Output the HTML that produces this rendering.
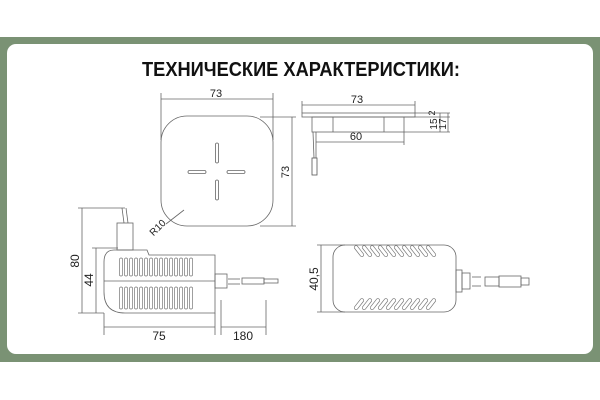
<!DOCTYPE html>
<html><head><meta charset="utf-8"><style>
html,body{margin:0;padding:0;width:600px;height:400px;overflow:hidden;background:#fff}
</style></head><body>
<svg width="600" height="400" viewBox="0 0 600 400" xmlns="http://www.w3.org/2000/svg" font-family="Liberation Sans, sans-serif">
<defs>
<rect id="sv" x="-1.6" y="0" width="3.2" height="18" rx="1.6" fill="none" stroke="#777" stroke-width="0.7"/>
<rect id="sl" x="-1.6" y="0" width="3.2" height="22" rx="1.6" fill="none" stroke="#777" stroke-width="0.7"/>
<rect id="ss" x="-1.8" y="0" width="3.6" height="13" rx="1.8" fill="none" stroke="#777" stroke-width="0.7"/>
</defs>
<rect x="0" y="0" width="600" height="400" fill="#fff"/>
<rect x="0" y="37" width="600" height="325" fill="#7a9274"/>
<rect x="7" y="44" width="586" height="310" rx="9" fill="#fff"/>
<text x="301" y="76" text-anchor="middle" font-size="20" font-weight="bold" textLength="318" lengthAdjust="spacingAndGlyphs" fill="#111">ТЕХНИЧЕСКИЕ ХАРАКТЕРИСТИКИ:</text>

<g fill="none" stroke="#666" stroke-width="0.8">
<rect x="161" y="116" width="112" height="110" rx="26"/>
<rect x="215.5" y="143" width="3" height="20" rx="1.5"/>
<rect x="215.5" y="180" width="3" height="20" rx="1.5"/>
<rect x="188" y="170.5" width="18" height="3" rx="1.5"/>
<rect x="227" y="170.5" width="18" height="3" rx="1.5"/>
<line x1="161" y1="93" x2="161" y2="140"/><line x1="273" y1="93" x2="273" y2="140"/>
<line x1="161" y1="99" x2="273" y2="99"/>
<line x1="260" y1="117" x2="296" y2="117"/><line x1="260" y1="226" x2="296" y2="226"/>
<line x1="292" y1="117" x2="292" y2="226"/>
<line x1="166" y1="224" x2="184" y2="210"/>
<rect x="302" y="113" width="113" height="4"/>
<rect x="312" y="117" width="92" height="15"/>
<line x1="333" y1="117" x2="333" y2="132"/><line x1="384" y1="117" x2="384" y2="132"/>
<line x1="302" y1="105" x2="415" y2="105"/><line x1="302" y1="101" x2="302" y2="113"/><line x1="415" y1="101" x2="415" y2="113"/>
<line x1="316" y1="142" x2="404" y2="142"/><line x1="404" y1="132" x2="404" y2="145"/>
<line x1="415" y1="113" x2="450" y2="113"/><line x1="404" y1="117" x2="450" y2="117"/><line x1="404" y1="132" x2="450" y2="132"/>
<line x1="440" y1="113" x2="440" y2="132"/><line x1="448" y1="113" x2="448" y2="132"/>
<line x1="313" y1="132" x2="314" y2="158"/><line x1="316" y1="132" x2="316" y2="158"/>
<rect x="312" y="158" width="5" height="17" stroke="#555"/>
<path d="M104 262 Q104 250 114 250 L147 250 L149 255 L215 255 L215 313 L125 313 Q104 313 104 292 Z"/>
<line x1="104" y1="281" x2="215" y2="281"/>
<rect x="117" y="223" width="16" height="27"/>
<line x1="122" y1="208" x2="124" y2="223"/><line x1="126" y1="208" x2="128" y2="223"/>
<rect x="215" y="274" width="12" height="14"/>
<line x1="228" y1="279" x2="240" y2="279"/><line x1="228" y1="284" x2="240" y2="284"/>
<rect x="242" y="278" width="22" height="6"/><rect x="264" y="279" width="14" height="4"/>
<line x1="82" y1="208" x2="82" y2="313"/><line x1="78" y1="208" x2="125" y2="208"/><line x1="78" y1="313" x2="104" y2="313"/>
<line x1="96" y1="248" x2="96" y2="313"/><line x1="92" y1="248" x2="118" y2="248"/>
<line x1="104" y1="313" x2="104" y2="335"/><line x1="215" y1="313" x2="215" y2="335"/>
<line x1="221" y1="300" x2="221" y2="335"/><line x1="266" y1="300" x2="266" y2="335"/>
<line x1="104" y1="327" x2="215" y2="327"/><line x1="221" y1="327" x2="266" y2="327"/>
<rect x="333" y="245" width="123" height="67" rx="12"/>
<line x1="321" y1="245" x2="321" y2="312"/><line x1="317" y1="245" x2="345" y2="245"/><line x1="317" y1="312" x2="345" y2="312"/>
<rect x="456" y="270" width="6" height="22"/><rect x="462" y="273" width="8" height="16"/>
<line x1="472" y1="277" x2="481" y2="277"/><line x1="472" y1="286" x2="481" y2="286"/>
<rect x="485" y="277" width="14" height="9"/><rect x="499" y="276" width="22" height="11"/><rect x="521" y="278" width="8" height="7"/>
</g>
<g>
<use href="#sv" x="121" y="258"/><use href="#sv" x="126" y="258"/><use href="#sv" x="131" y="258"/><use href="#sv" x="136" y="258"/><use href="#sv" x="141" y="258"/><use href="#sv" x="146" y="258"/><use href="#sv" x="151" y="258"/><use href="#sv" x="156" y="258"/><use href="#sv" x="161" y="258"/><use href="#sv" x="166" y="258"/><use href="#sv" x="171" y="258"/><use href="#sv" x="176" y="258"/><use href="#sv" x="181" y="258"/><use href="#sv" x="186" y="258"/><use href="#sv" x="191" y="258"/>
<use href="#sl" x="121" y="287"/><use href="#sl" x="126" y="287"/><use href="#sl" x="131" y="287"/><use href="#sl" x="136" y="287"/><use href="#sl" x="141" y="287"/><use href="#sl" x="146" y="287"/><use href="#sl" x="151" y="287"/><use href="#sl" x="156" y="287"/><use href="#sl" x="161" y="287"/><use href="#sl" x="166" y="287"/><use href="#sl" x="171" y="287"/><use href="#sl" x="176" y="287"/><use href="#sl" x="181" y="287"/><use href="#sl" x="186" y="287"/><use href="#sl" x="191" y="287"/>
<g transform="translate(0,0)">
<use href="#ss" transform="translate(355,246) rotate(-38)"/><use href="#ss" transform="translate(363,246) rotate(-38)"/><use href="#ss" transform="translate(371,246) rotate(-38)"/><use href="#ss" transform="translate(379,246) rotate(-38)"/><use href="#ss" transform="translate(387,246) rotate(-38)"/><use href="#ss" transform="translate(395,246) rotate(-38)"/><use href="#ss" transform="translate(403,246) rotate(-38)"/><use href="#ss" transform="translate(411,246) rotate(-38)"/><use href="#ss" transform="translate(419,246) rotate(-38)"/><use href="#ss" transform="translate(427,246) rotate(-38)"/>
<use href="#ss" transform="translate(363,299) rotate(38)"/><use href="#ss" transform="translate(371,299) rotate(38)"/><use href="#ss" transform="translate(379,299) rotate(38)"/><use href="#ss" transform="translate(387,299) rotate(38)"/><use href="#ss" transform="translate(395,299) rotate(38)"/><use href="#ss" transform="translate(403,299) rotate(38)"/><use href="#ss" transform="translate(411,299) rotate(38)"/><use href="#ss" transform="translate(419,299) rotate(38)"/><use href="#ss" transform="translate(427,299) rotate(38)"/><use href="#ss" transform="translate(435,299) rotate(38)"/>
</g>
</g>
<g fill="#222" font-size="11">
<text x="216" y="97" text-anchor="middle">73</text>
<text transform="translate(289,172) rotate(-90)" text-anchor="middle">73</text>
<text transform="translate(160,230) rotate(-45)" text-anchor="middle" font-size="10">R10</text>
<text x="357" y="103" text-anchor="middle">73</text>
<text x="356" y="140" text-anchor="middle">60</text>
<text transform="translate(435,113) rotate(-90)" text-anchor="middle" font-size="9">2</text>
<text transform="translate(437,124) rotate(-90)" text-anchor="middle" font-size="10">15</text>
<text transform="translate(446,124) rotate(-90)" text-anchor="middle" font-size="10">17</text>
<text transform="translate(79,261) rotate(-90)" text-anchor="middle" font-size="12">80</text>
<text transform="translate(93,280) rotate(-90)" text-anchor="middle" font-size="12">44</text>
<text x="159" y="340" text-anchor="middle" font-size="12">75</text>
<text x="243" y="340" text-anchor="middle" font-size="12">180</text>
<text transform="translate(318,279) rotate(-90)" text-anchor="middle" font-size="12">40,5</text>
</g>
</svg>
</body></html>
